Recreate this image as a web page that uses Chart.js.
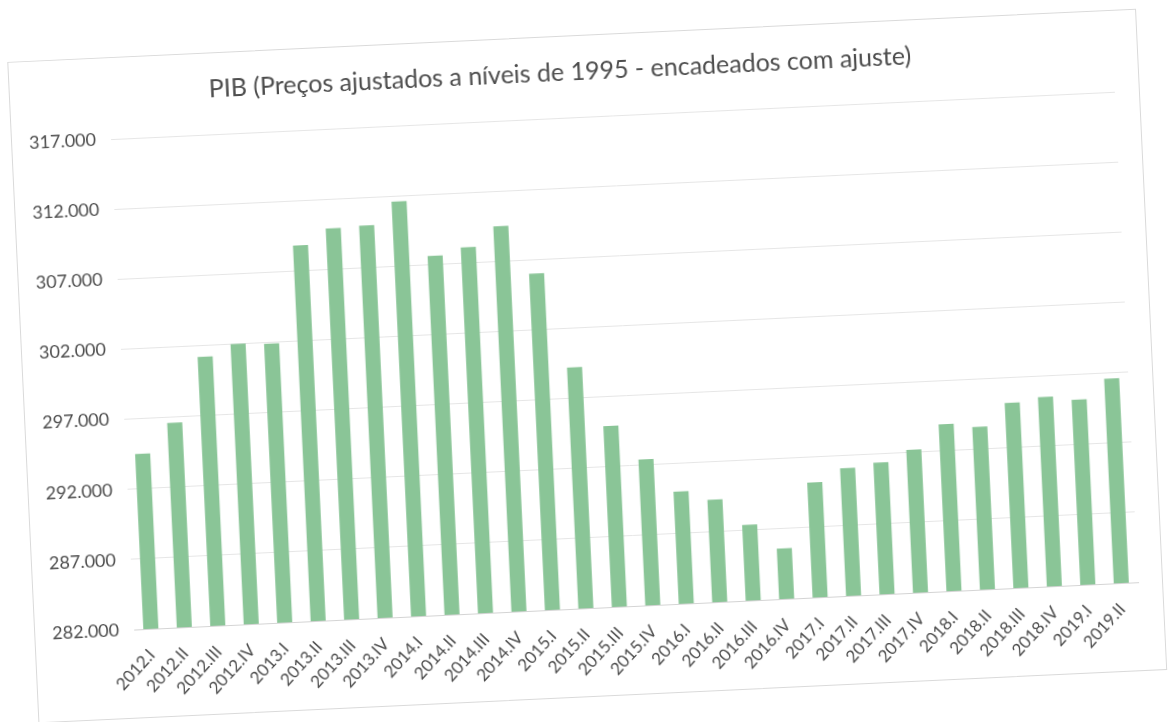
<!DOCTYPE html>
<html>
<head>
<meta charset="utf-8">
<script src="https://cdn.jsdelivr.net/npm/chart.js@4.4.1/dist/chart.umd.min.js"></script>
<style>
  html, body { margin: 0; padding: 0; background: #fff; overflow: hidden; width: 1171px; height: 722px; }
  #sheet { position: absolute; left: 0; top: 0; width: 1171px; height: 722px;
           transform: rotate(-2.7deg); transform-origin: 585.5px 361px; }
  #frame { position: absolute; left: 22px; top: 35px; width: 1130px; height: 662px;
           border: 1px solid #dadada; box-sizing: border-box; }
  #c { position: absolute; left: 0; top: 0; }
</style>
</head>
<body>
<div id="sheet">
  <div id="frame"></div>
  <canvas id="c" width="1171" height="722"></canvas>
</div>
<script>
// Quarterly GDP, 1995 prices, chained with adjustment
const quarters = [
  '2012.I', '2012.II', '2012.III', '2012.IV',
  '2013.I', '2013.II', '2013.III', '2013.IV',
  '2014.I', '2014.II', '2014.III', '2014.IV',
  '2015.I', '2015.II', '2015.III', '2015.IV',
  '2016.I', '2016.II', '2016.III', '2016.IV',
  '2017.I', '2017.II', '2017.III', '2017.IV',
  '2018.I', '2018.II', '2018.III', '2018.IV',
  '2019.I', '2019.II'
];
const gdpValues = [
  294500, 296600, 301200, 302000,
  301900, 308800, 309900, 310000,
  311600, 307600, 308100, 309500,
  306000, 299200, 294900, 292400,
  290000, 289300, 287400, 285600,
  290200, 291100, 291400, 292200,
  293900, 293600, 295200, 295500,
  295200, 296600
];
const yTicks = [282000, 287000, 292000, 297000, 302000, 307000, 312000, 317000];
const chartTitle = 'PIB (Preços ajustados a níveis de 1995 - encadeados com ajuste)';

const textColor = '#4d4d4d';
const fontFamily = 'Lato, "Open Sans", sans-serif';

function formatThousands(v) {
  return String(v).replace(/\B(?=(\d{3})+(?!\d))/g, '.');
}

new Chart(document.getElementById('c'), {
  type: 'bar',
  data: {
    labels: quarters,
    datasets: [{
      data: gdpValues,
      backgroundColor: '#8ac597',
      borderWidth: 0,
      barPercentage: 0.45,
      categoryPercentage: 1.0
    }]
  },
  options: {
    responsive: false,
    animation: false,
    layout: { padding: { left: 20, right: 44, top: 0, bottom: 34 } },
    plugins: {
      legend: { display: false },
      tooltip: { enabled: false },
      title: {
        display: true,
        text: chartTitle,
        color: textColor,
        font: { family: fontFamily, size: 25, weight: 'normal' },
        padding: { top: 57, bottom: 30 }
      }
    },
    scales: {
      x: {
        grid: { display: false },
        border: { display: true, color: '#d4d4d4', width: 1 },
        ticks: {
          color: textColor,
          font: { family: fontFamily, size: 17 },
          autoSkip: false,
          minRotation: 45,
          maxRotation: 45,
          padding: 8
        },
        afterFit(scale) { scale.height = 80; }
      },
      y: {
        min: yTicks[0],
        max: yTicks[yTicks.length - 1],
        afterBuildTicks(scale) { scale.ticks = yTicks.map(v => ({ value: v })); },
        grid: { color: '#e6e6e6', drawTicks: false },
        border: { display: false },
        ticks: {
          color: textColor,
          font: { family: fontFamily, size: 18 },
          padding: 15,
          callback: v => formatThousands(v)
        },
        afterFit(scale) { scale.width = 102; }
      }
    }
  }
});
</script>
</body>
</html>
